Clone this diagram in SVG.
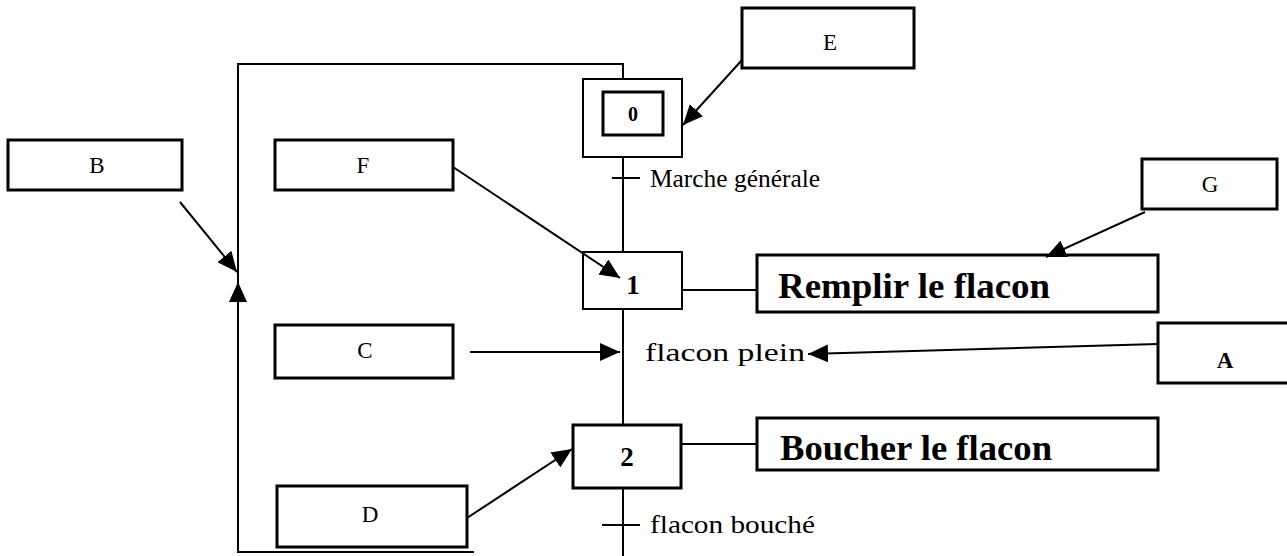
<svg xmlns="http://www.w3.org/2000/svg" width="1287" height="556" viewBox="0 0 1287 556">
<style>
.box{fill:#fff;stroke:#000;stroke-width:3}
.thin{fill:#fff;stroke:#000;stroke-width:2}
.ln{fill:none;stroke:#000;stroke-width:2}
.lbl{font-family:"Liberation Serif",serif;font-size:23px;text-anchor:middle;fill:#000}
.tr{font-family:"Liberation Serif",serif;font-size:25px;fill:#000}
.act{font-family:"Liberation Serif",serif;font-size:36px;font-weight:bold;fill:#000}
.num{font-family:"Liberation Serif",serif;font-weight:bold;text-anchor:middle;fill:#000}
</style>
<defs>
<marker id="ah" markerUnits="userSpaceOnUse" markerWidth="22" markerHeight="18" refX="20" refY="9" orient="auto">
<path d="M0,0 L20,9 L0,18 Z" fill="#000"/>
</marker>
</defs>
<g id="step0">
<rect class="thin" x="583" y="79" width="99" height="78"/>
<rect class="box" x="603" y="92" width="60" height="43"/>
<text class="num" x="633" y="121" font-size="20">0</text>
</g>
<g id="step1">
<rect class="thin" x="583" y="252" width="99" height="57"/>
<text class="num" x="633" y="294" font-size="27">1</text>
</g>
<g id="step2">
<rect class="box" x="573" y="425" width="108" height="63"/>
<text class="num" x="627" y="466" font-size="27">2</text>
</g>
<g id="action1">
<rect class="box" x="757" y="255" width="401" height="57"/>
<text class="act" x="778" y="298" textLength="272" lengthAdjust="spacingAndGlyphs">Remplir le flacon</text>
</g>
<g id="action2">
<rect class="box" x="757" y="418" width="401" height="52"/>
<text class="act" x="780" y="460" textLength="272" lengthAdjust="spacingAndGlyphs">Boucher le flacon</text>
</g>
<g id="transitions">
<text class="tr" x="650" y="187" textLength="170" lengthAdjust="spacingAndGlyphs">Marche générale</text>
<text class="tr" x="645" y="361" textLength="160" lengthAdjust="spacingAndGlyphs">flacon plein</text>
<text class="tr" x="650" y="533" textLength="165" lengthAdjust="spacingAndGlyphs">flacon bouché</text>
</g>
<g id="boxA"><rect class="box" x="1158" y="323" width="131" height="60"/><text class="lbl" x="1225" y="368" font-weight="bold">A</text></g>
<g id="boxB"><rect class="box" x="8" y="140" width="174" height="50"/><text class="lbl" x="97" y="173">B</text></g>
<g id="boxC"><rect class="box" x="275" y="325" width="178" height="53"/><text class="lbl" x="365" y="358">C</text></g>
<g id="boxD"><rect class="box" x="277" y="486" width="190" height="61"/><text class="lbl" x="370" y="522">D</text></g>
<g id="boxE"><rect class="box" x="742" y="8" width="172" height="60"/><text class="lbl" x="830" y="50">E</text></g>
<g id="boxF"><rect class="box" x="275" y="140" width="178" height="50"/><text class="lbl" x="363" y="173">F</text></g>
<g id="boxG"><rect class="box" x="1142" y="159" width="135" height="50"/><text class="lbl" x="1210" y="192">G</text></g>
<g id="connectors">
<path class="ln" d="M623,79 V64 H238 V552 H474"/>
<path class="ln" d="M238,300 V282" marker-end="url(#ah)"/>
<path class="ln" d="M623,157 V252 M623,309 V425 M623,488 V556"/>
<path class="ln" d="M612,178 H640 M602,525 H640"/>
<path class="ln" d="M682,290 H757 M681,444 H757"/>
<path class="ln" d="M180,202 L237,272" marker-end="url(#ah)"/>
<path class="ln" d="M742,60 L683,125" marker-end="url(#ah)"/>
<path class="ln" d="M453,167 L620,278" marker-end="url(#ah)"/>
<path class="ln" d="M1145,212 L1046,257" marker-end="url(#ah)"/>
<path class="ln" d="M470,352 L620,352" marker-end="url(#ah)"/>
<path class="ln" d="M1158,344 L808,354" marker-end="url(#ah)"/>
<path class="ln" d="M467,518 L572,449" marker-end="url(#ah)"/>
</g>
</svg>
